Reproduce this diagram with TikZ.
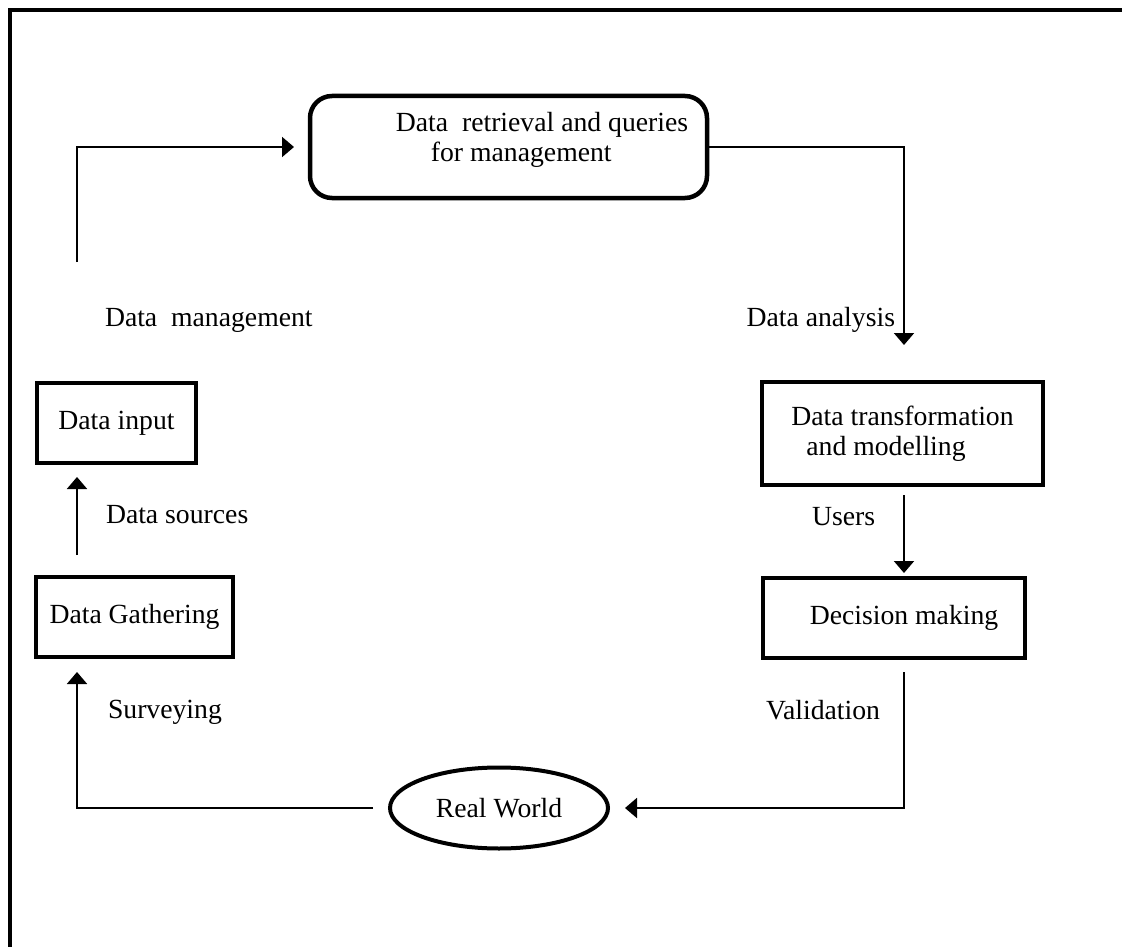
\documentclass[tikz,border=0pt]{standalone}
\usepackage{fontspec}
\setmainfont{Liberation Serif}
\usetikzlibrary{arrows.meta,shapes.geometric}
\begin{document}
\begin{tikzpicture}[x=1pt,y=-1pt,
  every node/.style={font=\fontsize{27.7}{30}\selectfont, inner sep=0pt, outer sep=0pt},
  frameline/.style={line width=4.5pt},
  stagebox/.style={draw, line width=4.5pt},
  querybox/.style={draw, line width=4.5pt, rounded corners=22pt},
  worldoval/.style={draw, ellipse, line width=4pt},
  flow/.style={line width=2pt, -{Triangle[width=20pt,length=12pt]}}]
\useasboundingbox (0,0) rectangle (1122,947);

% outer frame (top and left edges)
\draw[frameline] (10,947) -- (10,10) -- (1122,10);

% stages of the cycle
\node[querybox, minimum width=397pt, minimum height=102pt] (qbox) at (508.5,147) {};
\node[align=left] (qtext) at (542,140) {Data~~retrieval and queries\\\hspace*{35pt}for management};
\node[stagebox, minimum width=159pt, minimum height=80pt] (input) at (116.5,423) {Data input};
\node[stagebox, minimum width=197pt, minimum height=80pt] (gath) at (134.5,617) {Data Gathering};
\node[stagebox, minimum width=281pt, minimum height=103pt, align=left] (trans) at (902.5,433.5) {Data transformation\\\hspace*{15pt}and modelling};
\node[stagebox, minimum width=262pt, minimum height=80pt] (dec) at (894,618) {\hspace*{20pt}Decision making};
\node[worldoval, minimum width=218pt, minimum height=81pt] (world) at (499,808) {Real World};

% helper coordinates for the vertical runs and free ends
\coordinate (lx) at (77,0);
\coordinate (rx) at (904,0);
\coordinate (dmstart) at (77,262);
\coordinate (daend) at (904,345);

% connectors
\draw[flow, shorten >=16pt] (dmstart) |- (qbox.west);
\draw[flow] (qbox.east) -| (daend);
\draw[flow, shorten <=22pt, shorten >=14pt] (lx |- gath.north) -- (lx |- input.south);
\draw[flow, shorten <=17pt, shorten >=15pt] (world.west) -| (lx |- gath.south);
\draw[flow, shorten <=10pt, shorten >=5pt] (rx |- trans.south) -- (rx |- dec.north);
\draw[flow, shorten <=14pt, shorten >=17pt] (rx |- dec.south) |- (world.east);

% connector labels
\node[anchor=west] (lblman) at (105,320) {Data~~management};
\node[anchor=east] (lblana) at (895,320) {Data analysis};
\node[anchor=west] (lblsrc) at (106,515) {Data sources};
\node[anchor=west] (lblusr) at (812,517) {Users};
\node[anchor=west] (lblsur) at (108,712) {Surveying};
\node[anchor=east] (lblval) at (880,710) {Validation};
\end{tikzpicture}
\end{document}
